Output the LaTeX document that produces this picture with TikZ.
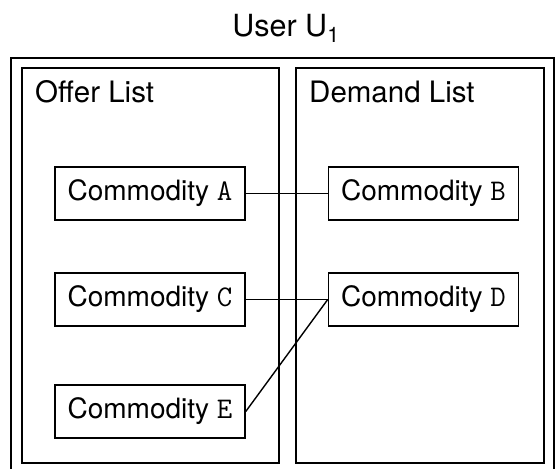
\documentclass[tikz,border=0pt]{standalone}
\usepackage{fontspec}
\setmainfont{TeX Gyre Heros}
\begin{document}
\begin{tikzpicture}[x=1pt,y=-1pt,
  frame/.style={draw=black,line width=1.6pt},
  commod/.style={draw=black,line width=1.5pt,minimum width=190pt,minimum height=53pt,inner sep=0pt,font=\fontsize{28}{32}\selectfont},
  listlabel/.style={anchor=base west,inner sep=0pt,font=\fontsize{29.5}{34}\selectfont},
  link/.style={draw=black,line width=1.4pt}]
\clip (0,0) rectangle (555,469);
\useasboundingbox (0,0) rectangle (555,469);
\node[anchor=base,inner sep=0pt,font=\fontsize{30.5}{35}\selectfont] (title) at (286,36) {User U\textsubscript{1}};
\node[frame,anchor=north west,minimum width=543pt,minimum height=430pt,inner sep=0pt] (outer) at (10,57) {};
\node[frame,anchor=north west,minimum width=257pt,minimum height=395pt,inner sep=0pt] (offer) at (21,67) {};
\node[frame,anchor=north west,minimum width=248pt,minimum height=395pt,inner sep=0pt] (demand) at (295,67) {};
\node[listlabel] (offerlbl) at (35,102) {Offer List};
\node[listlabel] (demandlbl) at (309,102) {Demand List};
\node[commod] (A) at (150,193.5) {Commodity {\ttfamily\fontsize{30}{32}\selectfont A}};
\node[commod] (C) at (150,299.5) {Commodity {\ttfamily\fontsize{30}{32}\selectfont C}};
\node[commod] (E) at (150,411.5) {Commodity {\ttfamily\fontsize{30}{32}\selectfont E}};
\node[commod] (B) at (423.5,193.5) {Commodity {\ttfamily\fontsize{30}{32}\selectfont B}};
\node[commod] (D) at (423.5,299.5) {Commodity {\ttfamily\fontsize{30}{32}\selectfont D}};
\draw[link] (A.east) -- (B.west);
\draw[link] (C.east) -- (D.west);
\draw[link] (E.east) -- (D.west);
\end{tikzpicture}
\end{document}
